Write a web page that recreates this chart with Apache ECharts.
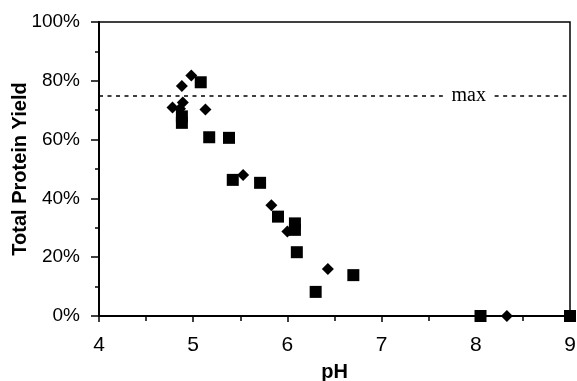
<!DOCTYPE html>
<html>
<head>
<meta charset="utf-8">
<script src="https://cdn.jsdelivr.net/npm/echarts@6/dist/echarts.min.js"></script>
<style>html,body{margin:0;padding:0;background:#fff}#c{width:577px;height:381px}</style>
</head>
<body>
<div id="c"></div>
<script>
// Diamond series (pH, yield %)
const diamondPH    = [4.78, 4.88, 4.98, 4.89, 4.86, 5.13, 5.53, 5.83, 6.00, 6.43, 8.33];
const diamondYield = [70.9, 78.2, 81.8, 72.6, 70.5, 70.2, 48.0, 37.7, 28.7, 16.0, 0];
// Square series (pH, yield %)
const squarePH     = [5.08, 4.88, 4.88, 5.17, 5.38, 5.42, 5.71, 5.90, 6.08, 6.08, 6.10, 6.30, 6.70, 8.05, 9.00];
const squareYield  = [79.5, 67.9, 65.7, 60.8, 60.6, 46.3, 45.3, 33.8, 31.5, 29.3, 21.7, 8.2, 13.9, 0, 0];
// Reference line
const maxYield = 75;
const maxLabel = 'max';
const maxGap = [7.65, 8.2];
const xTicks = [4, 5, 6, 7, 8, 9];
const yTicks = [0, 20, 40, 60, 80, 100];

const zip = (a, b) => a.map((v, i) => [v, b[i]]);
const chart = echarts.init(document.getElementById('c'), null, {renderer: 'canvas'});
const lineStyle = {color: '#000', type: [4, 4.5], width: 1.5};
chart.setOption({
  animation: false,
  grid: {left: 99, right: 7, top: 22, bottom: 65, show: true, borderColor: '#000', borderWidth: 1.5,
         containLabel: false, outerBoundsMode: 'none'},
  xAxis: {
    type: 'value', min: xTicks[0], max: xTicks[xTicks.length - 1], interval: 1,
    name: 'pH', nameLocation: 'middle', nameGap: 46, nameMoveOverlap: false,
    nameTextStyle: {fontFamily: 'Liberation Sans', fontWeight: 'bold', fontSize: 20, color: '#000'},
    axisLine: {lineStyle: {color: '#000', width: 2}},
    axisTick: {show: true, length: 6, lineStyle: {color: '#000', width: 1.5}},
    minorTick: {show: true, splitNumber: 2, length: 5, lineStyle: {color: '#000', width: 1.5}},
    axisLabel: {fontFamily: 'Liberation Sans', fontSize: 21, color: '#000', margin: 19},
    splitLine: {show: false}
  },
  yAxis: {
    type: 'value', min: yTicks[0], max: yTicks[yTicks.length - 1], interval: 20,
    name: 'Total Protein Yield', nameLocation: 'middle', nameGap: 69, nameMoveOverlap: false,
    nameTextStyle: {fontFamily: 'Liberation Sans', fontWeight: 'bold', fontSize: 20, color: '#000'},
    axisLine: {lineStyle: {color: '#000', width: 2}},
    axisTick: {show: true, length: 8, lineStyle: {color: '#000', width: 1.5}},
    minorTick: {show: true, splitNumber: 2, length: 4, lineStyle: {color: '#000', width: 1.5}},
    axisLabel: {fontFamily: 'Liberation Sans', fontSize: 19, color: '#000', margin: 19, formatter: '{value}%'},
    splitLine: {show: false}
  },
  series: [
    {
      type: 'scatter', name: 'diamond', symbol: 'diamond', symbolSize: 12, clip: false,
      itemStyle: {color: '#000', opacity: 1}, z: 3,
      data: zip(diamondPH, diamondYield),
      markLine: {
        silent: true, symbol: 'none', lineStyle: lineStyle, label: {show: false},
        data: [
          [{coord: [xTicks[0], maxYield]}, {coord: [maxGap[0], maxYield]}],
          [{coord: [maxGap[1], maxYield]}, {coord: [xTicks[xTicks.length - 1], maxYield]}]
        ]
      },
      markPoint: {
        silent: true, symbol: 'circle', symbolSize: 1, itemStyle: {color: 'rgba(0,0,0,0)'},
        label: {show: true, position: 'inside', formatter: maxLabel, fontFamily: 'Liberation Serif', fontSize: 20, color: '#000', offset: [0, 0]},
        data: [{coord: [(maxGap[0] + maxGap[1]) / 2, maxYield]}]
      }
    },
    {
      type: 'scatter', name: 'square', symbol: 'rect', symbolSize: 12, clip: false,
      itemStyle: {color: '#000', opacity: 1}, z: 3,
      data: zip(squarePH, squareYield)
    }
  ]
});
</script>
</body>
</html>
